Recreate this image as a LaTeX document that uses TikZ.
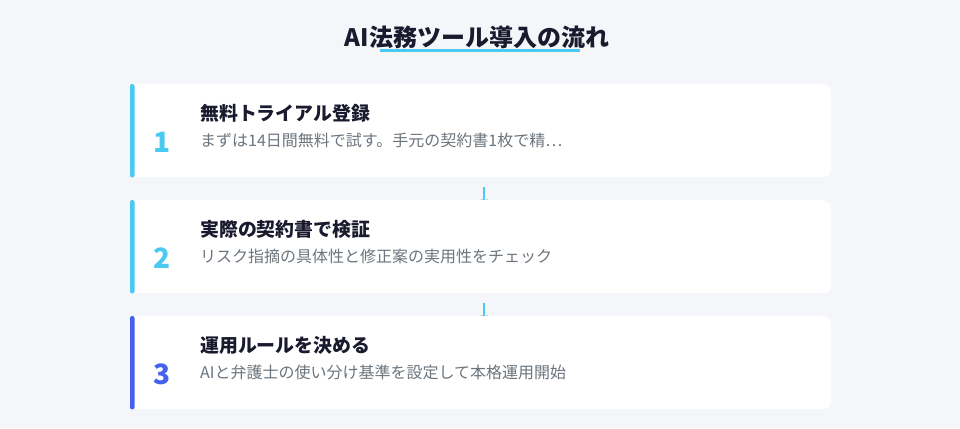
\documentclass[tikz,border=0pt]{standalone}
\usepackage{fontspec}
\setmainfont{Noto Sans CJK JP}
\usetikzlibrary{positioning,arrows.meta,backgrounds}
\definecolor{pagebg}{HTML}{F5F6FA}
\definecolor{accent}{HTML}{4CC9F0}
\definecolor{deep}{HTML}{4361EE}
\definecolor{ink}{HTML}{1A1A2E}
\definecolor{muted}{HTML}{6C757D}
\tikzset{
  card/.style={fill=white, rounded corners=8pt, anchor=north west,
    minimum width=701pt, minimum height=93pt, inner sep=0pt},
  stepnum/.style={font=\bfseries\fontsize{28}{32}\selectfont, inner sep=0pt},
  steptitle/.style={font=\bfseries\fontsize{18.9}{22}\selectfont, text=ink,
    anchor=west, inner sep=0pt},
  stepdesc/.style={font=\fontsize{16}{20}\selectfont, text=muted,
    anchor=west, inner sep=0pt},
  flow/.style={draw=accent, line width=1.6pt, -{Stealth[length=5pt,width=7pt]}}
}

\begin{document}
\begin{tikzpicture}[x=1pt,y=-1pt]
\begin{scope}[on background layer]
\fill[pagebg] (0,0) rectangle (960,428);
\end{scope}
% title and its underline
\node[font=\bfseries\fontsize{24}{28}\selectfont, text=ink, inner sep=0pt] (title) at (477,37) {AI法務ツール導入の流れ};
\draw[accent, line width=3pt] (380,50.5) -- (580,50.5);
% the three steps
\foreach \n/\y/\col/\head/\desc in {
	1/84/accent/無料トライアル登録/まずは14日間無料で試す。手元の契約書1枚で精…,
	2/200/accent/実際の契約書で検証/リスク指摘の具体性と修正案の実用性をチェック,
	3/316/deep/運用ルールを決める/AIと弁護士の使い分け基準を設定して本格運用開始
} {
\node[card] (card\n) at (130,\y) {};
\fill[white] (card\n.north west) rectangle ([xshift=20pt]card\n.south west); % square left side
\fill[\col, rounded corners=2pt] (card\n.north west) rectangle ([xshift=4.5pt]card\n.south west);
\node[stepnum, text=\col] (num\n) at ([xshift=32pt,yshift=-58pt]card\n.north west) {\n};
\node[steptitle] (head\n) at ([xshift=70pt,yshift=-29.5pt]card\n.north west) {\head};
\node[stepdesc] (desc\n) at ([xshift=70pt,yshift=-56.5pt]card\n.north west) {\desc};
};
% connectors, tucked under the next card
\begin{scope}[on background layer]
\foreach \a/\b in {1/2, 2/3} {
\path (card\a.south) ++(3.5,10) coordinate (gap\a);
\draw[flow] (gap\a) -- ([yshift=-4pt]gap\a |- card\b.north);
};
\end{scope}
\end{tikzpicture}
\end{document}
